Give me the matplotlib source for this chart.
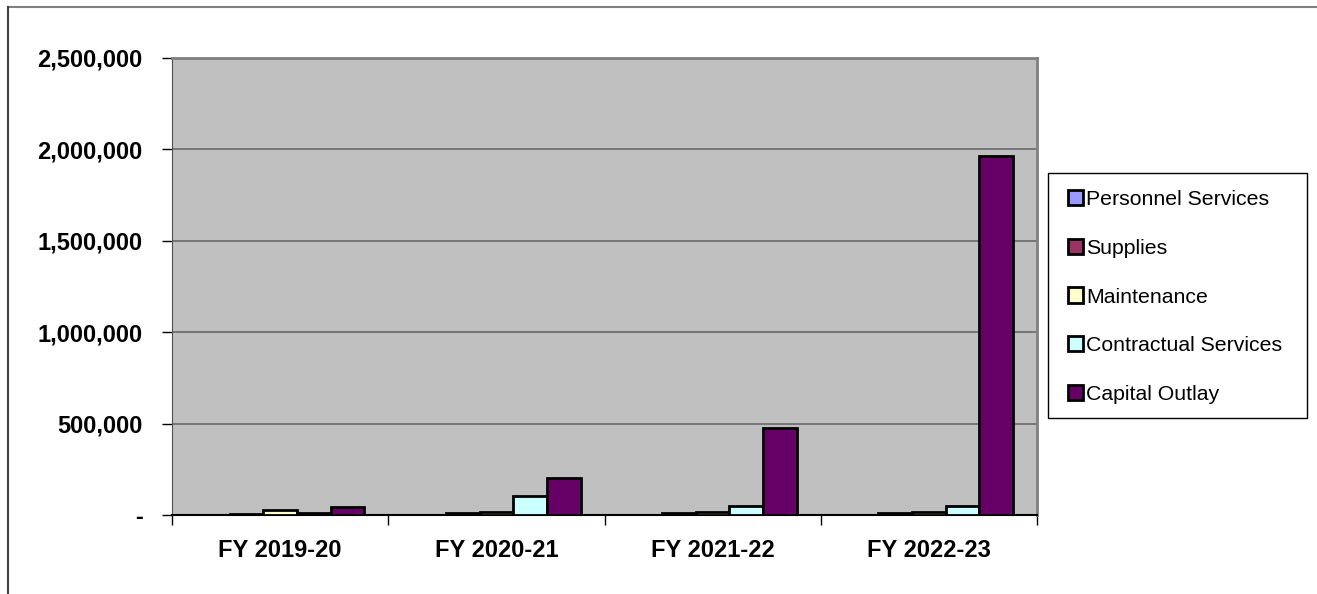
import numpy as np
import matplotlib.pyplot as plt
from matplotlib.ticker import FuncFormatter, FixedLocator
from matplotlib.lines import Line2D
from matplotlib.patches import Rectangle

plt.rcParams['font.family'] = ['Liberation Sans', 'DejaVu Sans']

# ── Data ──────────────────────────────────────────────────────────────────────
years = ["FY 2019-20", "FY 2020-21", "FY 2021-22", "FY 2022-23"]
personnel = [0, 0, 0, 0]
supplies = [8000, 10000, 12000, 12000]
maintenance = [25000, 15000, 18000, 18000]
contractual = [12000, 105000, 48000, 50000]
capital = [45000, 203000, 477000, 1963000]

series = ["Personnel Services", "Supplies", "Maintenance",
          "Contractual Services", "Capital Outlay"]
colors = ["#9999FF", "#993366", "#FFFFCC", "#CCFFFF", "#660066"]

# ── Figure ────────────────────────────────────────────────────────────────────
fig = plt.figure(figsize=(13.17, 5.94), dpi=100)
ax = fig.add_axes([172 / 1317, 1 - 515 / 594, (1037 - 172) / 1317, (515 - 58) / 594])
ax.set_facecolor("#C0C0C0")

x = np.arange(len(years))
width = 0.156
values = [personnel, supplies, maintenance, contractual, capital]
for i, (vals, col, name) in enumerate(zip(values, colors, series)):
    ax.bar(x + (i - 2) * width, vals, width, color=col, edgecolor="black",
           linewidth=2, label=name, zorder=3)

ax.set_xlim(-0.5, len(years) - 0.5)
ax.set_ylim(0, 2500000)
ax.set_yticks(np.arange(0, 2500001, 500000))
ax.yaxis.set_major_formatter(FuncFormatter(lambda v, p: "-" if v == 0 else f"{int(v):,}"))
ax.grid(axis="y", color="#707070", linewidth=1.3, zorder=0)

ax.set_xticks(x)
ax.set_xticklabels(years, fontsize=17, fontweight="bold")
ax.xaxis.set_major_locator(FixedLocator(x))
ax.xaxis.set_minor_locator(FixedLocator(np.arange(-0.5, len(years), 1)))
ax.tick_params(axis="x", which="major", length=0, pad=17)
ax.tick_params(axis="x", which="minor", length=7, width=1, color="black")
ax.tick_params(axis="y", length=7, width=1, pad=14, labelsize=17)
for lbl in ax.get_yticklabels():
    lbl.set_fontweight("bold")

ax.spines["left"].set_color("#505050")
ax.spines["bottom"].set_color("black")
ax.spines["bottom"].set_linewidth(1.5)
ax.spines["top"].set_color("#808080")
ax.spines["right"].set_color("#808080")
ax.spines["top"].set_linewidth(2)
ax.spines["right"].set_linewidth(2)

# ── Legend (box drawn separately, wider than its text like the original) ─────
leg = ax.legend(loc="center left", bbox_to_anchor=(1068 / 1317, 1 - 297 / 594),
                bbox_transform=fig.transFigure, fontsize=15.3, frameon=False,
                handlelength=0.72, handleheight=0.72, handletextpad=0.15,
                labelspacing=1.4, borderpad=0, borderaxespad=0)
fig.add_artist(Rectangle((1048 / 1317, 1 - 418 / 594), 259 / 1317, 245 / 594,
                         transform=fig.transFigure, facecolor="white",
                         edgecolor="black", linewidth=1, zorder=0))

# ── Outer chart border ────────────────────────────────────────────────────────
fig.add_artist(Line2D([8 / 1317, 1], [1 - 7 / 594, 1 - 7 / 594], color="#808080", lw=1.5))
fig.add_artist(Line2D([8 / 1317, 8 / 1317], [0, 1 - 7 / 594], color="#404040", lw=1.5))

fig.savefig("out.png", dpi=100)
